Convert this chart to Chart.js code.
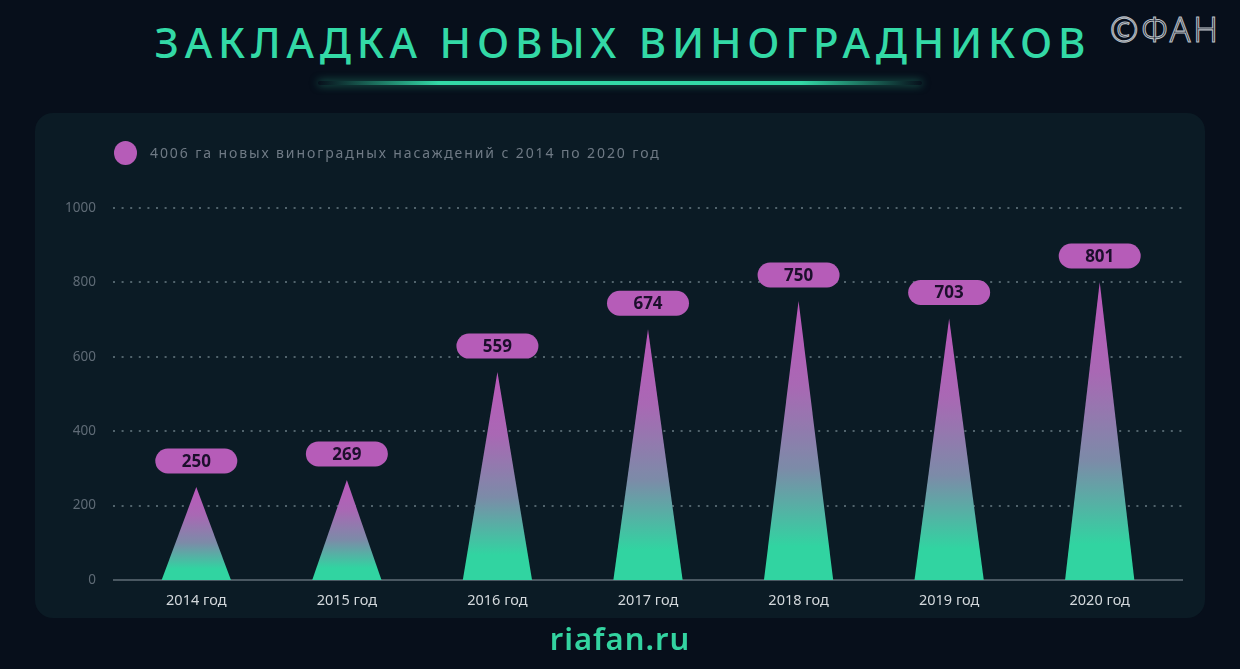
<!DOCTYPE html>
<html lang="ru">
<head>
<meta charset="utf-8">
<title>Закладка новых виноградников</title>
<script src="https://cdn.jsdelivr.net/npm/chart.js@4.4.1/dist/chart.umd.min.js"></script>
<style>
    html, body {
        margin: 0;
        padding: 0;
        width: 1240px;
        height: 669px;
        overflow: hidden;
        background: #070f1b;
        font-family: "Noto Sans", "DejaVu Sans", sans-serif;
    }
    .title {
        position: absolute;
        left: 0;
        width: 1240px;
        top: 13px;
        text-align: center;
        color: #33d9a6;
        font-size: 42px;
        font-weight: 500;
        letter-spacing: 5.8px;
        text-indent: 5.8px;
    }
    .glow {
        position: absolute;
        left: 318px;
        width: 604px;
        top: 81px;
        height: 4px;
        border-radius: 2px;
        background: linear-gradient(90deg, rgba(51, 217, 166, 0), #33d9a6 20%, #33d9a6 80%, rgba(51, 217, 166, 0));
        box-shadow: 0 0 8px rgba(51, 217, 166, 0.5);
    }
    .logo {
        position: absolute;
        left: 1110px;
        top: 6px;
        font-size: 34px;
        font-weight: 300;
        color: transparent;
        -webkit-text-stroke: 1.1px #b8bec4;
        letter-spacing: 3px;
    }
    .panel {
        position: absolute;
        left: 35px;
        top: 113px;
        width: 1170px;
        height: 505px;
        border-radius: 18px;
        background: #0b1b25;
        overflow: hidden;
    }
    .legend {
        position: absolute;
        left: 79px;
        top: 28px;
        height: 24px;
        color: #6f7a85;
        font-size: 14px;
        letter-spacing: 1.9px;
        line-height: 24px;
        white-space: nowrap;
    }
    .legend i {
        display: inline-block;
        width: 23px;
        height: 24px;
        border-radius: 50%;
        background: #b65cb8;
        vertical-align: top;
        margin-right: 13px;
    }
    .footer {
        position: absolute;
        left: 0;
        width: 1240px;
        top: 617px;
        text-align: center;
        color: #33d3a0;
        font-size: 31px;
        font-weight: 600;
        letter-spacing: 1px;
    }
</style>
</head>
<body>
<div class="title">ЗАКЛАДКА НОВЫХ ВИНОГРАДНИКОВ</div>
<div class="glow"></div>
<div class="logo">©ФАН</div>
<div class="panel">
    <div class="legend"><i></i>4006 га новых виноградных насаждений с 2014 по 2020 год</div>
    <canvas id="vineChart" width="1170" height="505"></canvas>
</div>
<div class="footer">riafan.ru</div>

<script>
// данные
var years = ['2014 год', '2015 год', '2016 год', '2017 год', '2018 год', '2019 год', '2020 год'];
var hectares = [250, 269, 559, 674, 750, 703, 801];
var yTicks = [0, 200, 400, 600, 800, 1000];

// пунктирная сетка и ось, чуть шире области графика
var gridPlugin = {
    id: 'dottedGrid',
    beforeDatasetsDraw: function (chart) {
        var ctx = chart.ctx;
        var area = chart.chartArea;
        var y = chart.scales.y;
        var left = area.left - 8, right = area.right + 8;
        ctx.save();
        ctx.lineWidth = 2;
        yTicks.forEach(function (v) {
            var py = Math.round(y.getPixelForValue(v));
            ctx.beginPath();
            if (v === 0) {
                ctx.setLineDash([]);
                ctx.strokeStyle = '#4a5862';
            } else {
                ctx.setLineDash([2, 6.6]);
                ctx.strokeStyle = 'rgba(140,158,168,0.55)';
            }
            ctx.moveTo(left, py);
            ctx.lineTo(right, py);
            ctx.stroke();
        });
        ctx.restore();
    }
};

// треугольники вместо столбцов + подписи в "таблетках"
var pyramidPlugin = {
    id: 'pyramids',
    afterDatasetsDraw: function (chart) {
        var ctx = chart.ctx;
        var meta = chart.getDatasetMeta(0);
        meta.data.forEach(function (bar, i) {
            var p = bar.getProps(['x', 'y', 'base', 'width'], true);
            var half = p.width / 2;

            var grad = ctx.createLinearGradient(0, p.y, 0, p.base);
            grad.addColorStop(0, '#bb58bb');
            grad.addColorStop(0.3, '#a968b4');
            grad.addColorStop(0.6, '#7c8ba8');
            grad.addColorStop(0.88, '#31d4a1');
            grad.addColorStop(1, '#31d4a1');

            ctx.save();
            ctx.beginPath();
            ctx.moveTo(p.x, p.y);
            ctx.lineTo(p.x + half, p.base);
            ctx.lineTo(p.x - half, p.base);
            ctx.closePath();
            ctx.fillStyle = grad;
            ctx.fill();

            // подпись
            var w = 82, h = 25, cy = p.y - 26;
            ctx.beginPath();
            ctx.roundRect(p.x - w / 2, cy - h / 2, w, h, h / 2);
            ctx.fillStyle = '#b65cb8';
            ctx.fill();
            ctx.fillStyle = '#1c0f2c';
            ctx.font = '700 17px "Noto Sans", sans-serif';
            ctx.textAlign = 'center';
            ctx.textBaseline = 'middle';
            ctx.fillText(String(hectares[i]), p.x, cy + 1);
            ctx.restore();
        });
    }
};

new Chart(document.getElementById('vineChart'), {
    type: 'bar',
    data: {
        labels: years,
        datasets: [{
            label: '4006 га новых виноградных насаждений с 2014 по 2020 год',
            data: hectares,
            backgroundColor: 'rgba(0,0,0,0)',
            borderWidth: 0,
            categoryPercentage: 1,
            barPercentage: 0.46
        }]
    },
    options: {
        responsive: false,
        animation: false,
        layout: {
            padding: { top: 95, right: 30, bottom: 0, left: 0 }
        },
        plugins: {
            legend: { display: false },
            tooltip: { enabled: false }
        },
        scales: {
            x: {
                grid: { display: false, drawTicks: false },
                border: { display: false },
                ticks: {
                    color: '#d3d8dc',
                    padding: 12,
                    font: { family: '"Noto Sans", sans-serif', size: 14.5 }
                },
                afterFit: function (scale) {
                    scale.height = 38;
                }
            },
            y: {
                min: 0,
                max: 1000,
                afterBuildTicks: function (scale) {
                    scale.ticks = yTicks.map(function (v) { return { value: v }; });
                },
                grid: { display: false, drawTicks: false },
                border: { display: false },
                ticks: {
                    color: '#5f6b76',
                    padding: 25,
                    font: { family: '"Noto Sans", sans-serif', size: 13.5 },
                    callback: function (v) { return String(v); }
                },
                afterFit: function (scale) {
                    scale.width = 86;
                }
            }
        }
    },
    plugins: [gridPlugin, pyramidPlugin]
});
</script>
</body>
</html>
